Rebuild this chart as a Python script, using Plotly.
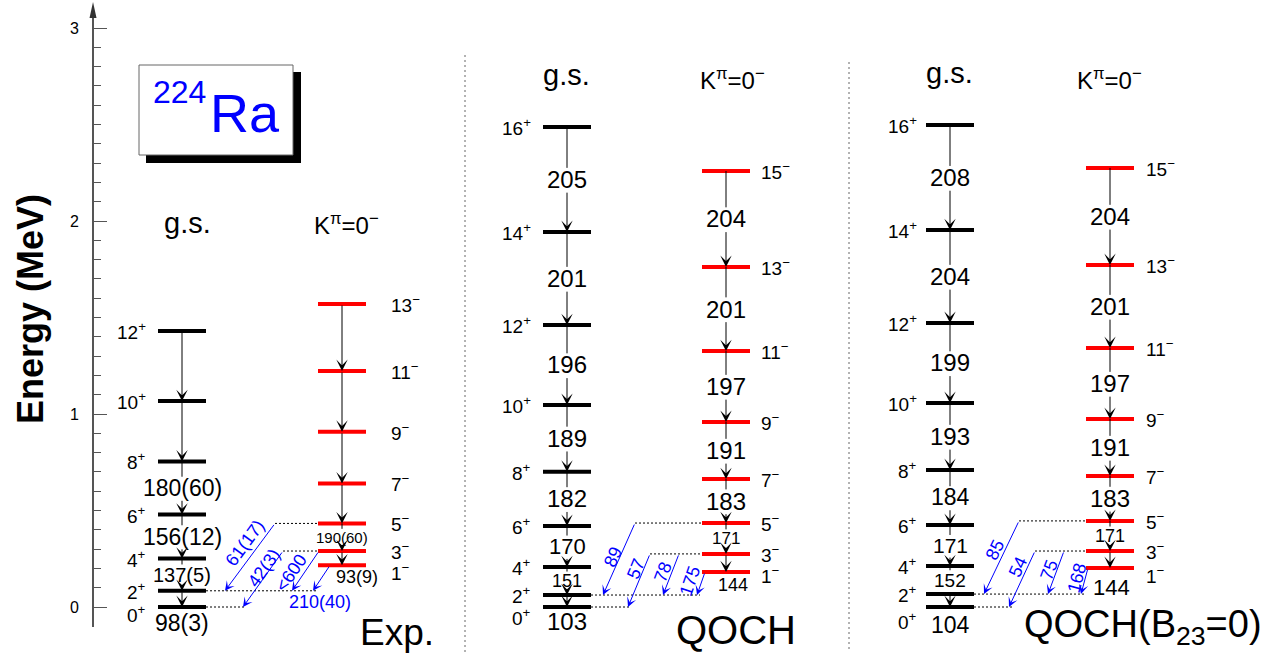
import math
import plotly.graph_objects as go

FONT = "Arial, 'Liberation Sans', sans-serif"
BLACK = "#000000"
RED = "#ff0000"
BLUE = "#0000ff"

# ---------------- level schemes of 224Ra (energies in keV) ----------------
# Experiment
exp_gs_spin = [0, 2, 4, 6, 8, 10, 12]
exp_gs_energy = [0, 84, 251, 479, 754, 1067, 1430]
exp_gs_be2 = ["98(3)", "137(5)", "156(12)", "180(60)"]
exp_oct_spin = [1, 3, 5, 7, 9, 11, 13]
exp_oct_energy = [216, 290, 433, 640, 908, 1223, 1570]
exp_oct_be2 = ["93(9)", "190(60)"]
exp_link_from = [5, 3, 3, 1]
exp_link_to = [2, 0, 2, 2]
exp_link_value = ["61(17)", "42(3)", "<600", "210(40)"]

# QOCH calculation
qoch_gs_spin = [0, 2, 4, 6, 8, 10, 12, 14, 16]
qoch_gs_energy = [0, 62, 207, 420, 701, 1047, 1461, 1943, 2487]
qoch_gs_be2 = ["103", "151", "170", "182", "189", "196", "201", "205"]
qoch_oct_spin = [1, 3, 5, 7, 9, 11, 13, 15]
qoch_oct_energy = [181, 275, 435, 663, 959, 1326, 1762, 2259]
qoch_oct_be2 = ["144", "171", "183", "191", "197", "201", "204"]
qoch_link_from = [5, 3, 3, 1]
qoch_link_to = [2, 0, 2, 2]
qoch_link_value = ["89", "57", "78", "175"]

# QOCH calculation with B23 = 0
b23_gs_spin = [0, 2, 4, 6, 8, 10, 12, 14, 16]
b23_gs_energy = [0, 67, 212, 425, 710, 1057, 1472, 1953, 2497]
b23_gs_be2 = ["104", "152", "171", "184", "193", "199", "204", "208"]
b23_oct_spin = [1, 3, 5, 7, 9, 11, 13, 15]
b23_oct_energy = [202, 290, 446, 679, 974, 1342, 1772, 2275]
b23_oct_be2 = ["144", "171", "183", "191", "197", "201", "204"]
b23_link_from = [5, 3, 3, 1]
b23_link_to = [2, 0, 2, 2]
b23_link_value = ["85", "54", "75", "168"]

# ---------------- geometry ----------------
W, H = 1283, 656
SCALE = 193.0   # pixels per MeV
ZERO = 607.0    # pixel row of E = 0
BAR = 48


def ey(p):
    """pixel row -> energy on the y axis (MeV)"""
    return (ZERO - p) / SCALE


PANELS = [
    dict(gs=(exp_gs_spin, exp_gs_energy, exp_gs_be2),
         oct=(exp_oct_spin, exp_oct_energy, exp_oct_be2),
         links=(exp_link_from, exp_link_to, exp_link_value),
         gs_x=158, oct_x=318, gs_spin_x=148, oct_spin_x=389,
         gs_sizes=[23, 20, 23, 23], oct_sizes=[18, 15],
         gs_low=(0, 16), oct_low=(15, 12), gs_spin_low=7, oct_spin_low=7,
         link_x0=[275, 283, 319, 330], link_x1=[225, 243, 292, 313],
         link_lab=[(245, 543), (264, 568), (291, 573), (320, 602)],
         link_flat=[False, False, False, True],
         heads=((187, 223), (346, 224)),
         title=("Exp.", 397, 632, 37)),
    dict(gs=(qoch_gs_spin, qoch_gs_energy, qoch_gs_be2),
         oct=(qoch_oct_spin, qoch_oct_energy, qoch_oct_be2),
         links=(qoch_link_from, qoch_link_to, qoch_link_value),
         gs_x=543, oct_x=702, gs_spin_x=533, oct_spin_x=759,
         gs_sizes=[24, 18, 22, 24, 24, 24, 24, 24],
         oct_sizes=[18, 17, 24, 24, 24, 24, 24],
         gs_low=(0, 14), oct_low=(7, 13), gs_spin_low=10, oct_spin_low=3,
         link_x0=[635, 650, 679, 705], link_x1=[603, 628, 663, 697],
         link_lab=[(613, 557), (636, 569), (663, 572), (690, 581)],
         link_flat=[False] * 4,
         heads=((566, 75), (732, 79)),
         title=("QOCH", 736, 630, 40)),
    dict(gs=(b23_gs_spin, b23_gs_energy, b23_gs_be2),
         oct=(b23_oct_spin, b23_oct_energy, b23_oct_be2),
         links=(b23_link_from, b23_link_to, b23_link_value),
         gs_x=926, oct_x=1086, gs_spin_x=919, oct_spin_x=1144,
         gs_sizes=[23, 19, 21, 23, 24, 24, 24, 24],
         oct_sizes=[22, 18, 24, 24, 24, 24, 24],
         gs_low=(0, 18), oct_low=(1, 19), gs_spin_low=14, oct_spin_low=7,
         link_x0=[1019, 1035, 1064, 1088], link_x1=[984, 1009, 1048, 1081],
         link_lab=[(995, 550), (1018, 567), (1049, 570), (1077, 578)],
         link_flat=[False] * 4,
         heads=((949, 73), (1109, 79)),
         title=("QOCH(B<sub>23</sub>=0)", 1143, 627, 38)),
]

shapes, annotations, traces = [], [], []


def seg(x0, y0, x1, y1, color=BLACK, width=1, dash="solid"):
    shapes.append(dict(type="line", xref="x", yref="y", x0=x0, y0=y0, x1=x1, y1=y1,
                       line=dict(color=color, width=width, dash=dash)))


def arrow(x0, y0, x1, y1, color=BLACK, size=1.9):
    annotations.append(dict(x=x1, y=y1, ax=x0, ay=y0, xref="x", yref="y",
                            axref="x", ayref="y", text="", showarrow=True,
                            arrowhead=3, arrowsize=size, arrowwidth=1,
                            arrowcolor=color, standoff=0, startstandoff=0))


def text(x, y, s, size, color=BLACK, xanchor="center", angle=0):
    annotations.append(dict(x=x, y=y, xref="x", yref="y", text=s, showarrow=False,
                            xanchor=xanchor, yanchor="middle", textangle=angle,
                            font=dict(family=FONT, size=size, color=color)))


def bars(x0, energies, color):
    xs, ys = [], []
    for e in energies:
        xs += [x0, x0 + BAR, None]
        ys += [e, e, None]
    traces.append(go.Scatter(x=xs, y=ys, mode="lines", hoverinfo="skip",
                             line=dict(color=color, width=4)))


def cascade(xc, energies, labels, sizes, low):
    """E2 cascade down a band; values sit in the gaps, the lowest one under the band head"""
    for k in range(len(energies) - 1):
        lo, hi = energies[k], energies[k + 1]
        if 1 <= k < len(labels):
            mid = (lo + hi) / 2
            half = (0.36 * sizes[k] + 3) / SCALE
            seg(xc, hi, xc, mid + half)
            arrow(xc, mid - half, xc, lo)
            text(xc, mid, labels[k], sizes[k])
        else:
            arrow(xc, hi, xc, lo)
    dx, off = low
    text(xc + dx, energies[0] - off / SCALE, labels[0], sizes[0])


for p in PANELS:
    gs_spin, gs_kev, gs_lab = p["gs"]
    oct_spin, oct_kev, oct_lab = p["oct"]
    l_from, l_to, l_val = p["links"]
    gs_e = [e / 1000 for e in gs_kev]
    oc_e = [e / 1000 for e in oct_kev]
    gx, ox = p["gs_x"], p["oct_x"]

    bars(gx, gs_e, BLACK)
    bars(ox, oc_e, RED)

    cascade(gx + BAR / 2, gs_e, gs_lab, p["gs_sizes"], p["gs_low"])
    cascade(ox + BAR / 2, oc_e, oct_lab, p["oct_sizes"], p["oct_low"])

    # spin-parity labels
    for k, (s, e) in enumerate(zip(gs_spin, gs_e)):
        off = p["gs_spin_low"] if k == 0 else 0
        text(p["gs_spin_x"], e - off / SCALE, f"{s}<sup>+</sup>", 19, xanchor="right")
    for k, (s, e) in enumerate(zip(oct_spin, oc_e)):
        off = p["oct_spin_low"] if k == 0 else 0
        text(p["oct_spin_x"], e - off / SCALE, f"{s}<sup>\u2212</sup>", 19, xanchor="left")

    # inter-band transitions with dotted level extensions
    for i, (fs, ts, val) in enumerate(zip(l_from, l_to, l_val)):
        y0 = oc_e[oct_spin.index(fs)]
        y1 = gs_e[gs_spin.index(ts)]
        x0, x1 = p["link_x0"][i], p["link_x1"][i]
        arrow(x0, y0, x1, y1, BLUE, size=1.6)
        ang = 0 if p["link_flat"][i] else -math.degrees(
            math.atan2((y0 - y1) * SCALE, abs(x0 - x1)))
        lx, ly = p["link_lab"][i]
        text(lx, ey(ly), val, 18, BLUE, angle=ang)
    for ts in sorted(set(l_to)):
        y = gs_e[gs_spin.index(ts)]
        xmax = max(x1 for x1, t in zip(p["link_x1"], l_to) if t == ts) + 3
        seg(gx + BAR, y, xmax, y, dash="2px,2px")
    for fs in sorted(set(l_from)):
        y = oc_e[oct_spin.index(fs)]
        xmin = min(x0 for x0, f in zip(p["link_x0"], l_from) if f == fs)
        if xmin < ox:
            seg(xmin, y, ox, y, dash="2px,2px")

    # band headers and panel title
    (hx, hy), (kx, ky) = p["heads"]
    text(hx, ey(hy), "g.s.", 29)
    text(kx, ey(ky), "K<sup>\u03c0</sup>=0<sup>\u2212</sup>", 24)
    t, tx, tyy, ts_ = p["title"]
    text(tx, ey(tyy), t, ts_)

# panel separators
seg(465, ey(55), 465, ey(652), "#666666", 1, "2px,3px")
seg(849, ey(62), 849, ey(652), "#666666", 1, "2px,3px")

# energy axis line with arrow tip
seg(93, ey(627), 93, ey(14), "#555555", 2)
shapes.append(dict(type="path", xref="x", yref="y",
                   path=f"M 89.5,{ey(18)} L 96.5,{ey(18)} L 93,{ey(2)} Z",
                   fillcolor="#333333", line=dict(width=0)))

# nucleus label box with shadow
shapes.append(dict(type="rect", xref="x", yref="y", x0=146, x1=301, y0=ey(163), y1=ey(72),
                   fillcolor="black", line=dict(width=0)))
shapes.append(dict(type="rect", xref="x", yref="y", x0=139, x1=293, y0=ey(155), y1=ey(65),
                   fillcolor="white", line=dict(color="#666666", width=1)))
text(208, ey(92), "224", 32, BLUE, xanchor="right")
text(208, ey(113), "Ra", 54, BLUE, xanchor="left")

# axis title
text(30, ey(309), "<b>Energy (MeV)</b>", 36, angle=-90)

fig = go.Figure(traces)
fig.update_layout(
    width=W, height=H, margin=dict(l=0, r=0, t=0, b=0),
    paper_bgcolor="white", plot_bgcolor="white", showlegend=False,
    xaxis=dict(range=[0, W], visible=False, fixedrange=True),
    yaxis=dict(range=[ey(H), ey(0)], anchor="free", position=93 / W,
               showline=False, showgrid=False, zeroline=False,
               ticks="inside", ticklen=13, tickwidth=1, tickcolor="#555555",
               tickmode="array", tickvals=[0, 1, 2, 3], ticktext=["0", "1", "2", "3"],
               tickfont=dict(family=FONT, size=16, color=BLACK),
               ticklabelstandoff=14,
               minor=dict(tickmode="array", tickvals=[i / 10 for i in range(31)],
                          ticks="inside", ticklen=7, tickwidth=1, tickcolor="#555555",
                          showgrid=False),
               fixedrange=True),
    shapes=shapes, annotations=annotations,
)
fig.write_html("out.html")
